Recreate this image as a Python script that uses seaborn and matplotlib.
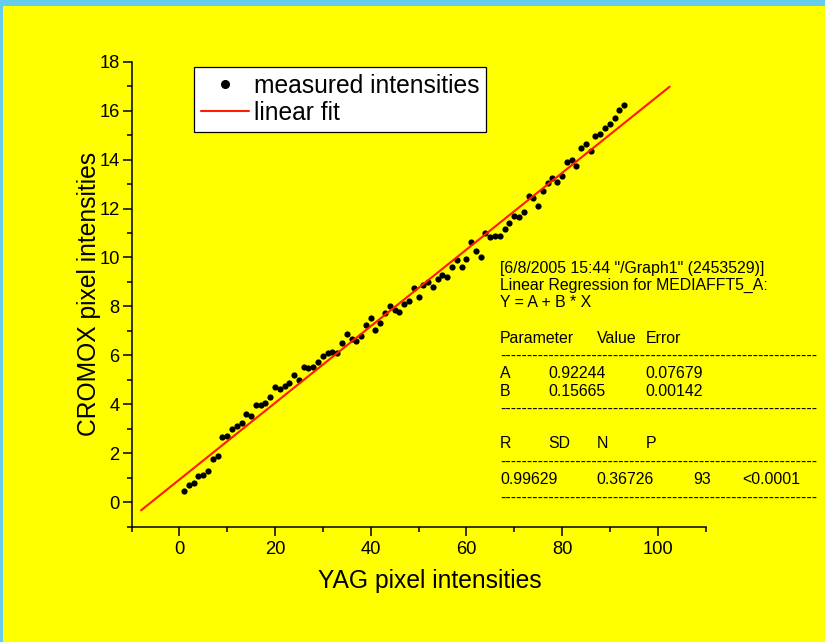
import numpy as np
import pandas as pd
import matplotlib
matplotlib.use("Agg")
import matplotlib.pyplot as plt
import seaborn as sns
from matplotlib.lines import Line2D
from matplotlib.patches import Rectangle
from matplotlib.ticker import MultipleLocator

# ---------------- data ----------------
yag = list(range(1, 94))
cromox = [0.45, 0.72, 0.78, 1.09, 1.13, 1.28, 1.77, 1.88, 2.66, 2.72,
          2.99, 3.10, 3.23, 3.62, 3.53, 3.96, 3.98, 4.07, 4.30, 4.71,
          4.64, 4.75, 4.88, 5.21, 5.01, 5.53, 5.50, 5.53, 5.74, 5.99,
          6.10, 6.12, 6.08, 6.51, 6.89, 6.67, 6.59, 6.79, 7.23, 7.52,
          7.03, 7.34, 7.75, 8.01, 7.84, 7.77, 8.12, 8.21, 8.76, 8.38,
          8.87, 8.98, 8.81, 9.14, 9.30, 9.21, 9.60, 9.88, 9.63, 9.93,
          10.64, 10.27, 10.01, 11.02, 10.83, 10.86, 10.86, 11.16, 11.40, 11.68,
          11.65, 11.84, 12.52, 12.44, 12.11, 12.71, 13.04, 13.23, 13.07, 13.31,
          13.91, 13.97, 13.72, 14.48, 14.65, 14.35, 14.98, 15.06, 15.28, 15.47,
          15.69, 16.01, 16.23]

fit_A = 0.92244
fit_B = 0.15665
fit_A_err = "0.07679"
fit_B_err = "0.00142"
fit_x_range = [-8.0, 102.5]
stat_R = "0.99629"
stat_SD = "0.36726"
stat_N = "93"
stat_P = "<0.0001"

x_major_ticks = [0, 20, 40, 60, 80, 100]
y_major_ticks = [0, 2, 4, 6, 8, 10, 12, 14, 16, 18]

legend_labels = ["measured intensities", "linear fit"]
x_label = "YAG pixel intensities"
y_label = "CROMOX pixel intensities"
header_lines = ['[6/8/2005 15:44 "/Graph1" (2453529)]',
                "Linear Regression for MEDIAFFT5_A:",
                "Y = A + B * X"]

# ---------------- style ----------------
BLUE = "#66CCEE"
YELLOW = "#FFFF00"
RED = "#FF1A00"

sns.set_theme(style="ticks")
plt.rcParams["font.family"] = ["Liberation Sans", "DejaVu Sans"]

W, H = 825, 642
fig = plt.figure(figsize=(W / 100, H / 100), dpi=100, facecolor=BLUE)
fig.patches.append(Rectangle((3 / W, 0), 1, 1 - 6 / H, transform=fig.transFigure,
                             facecolor=YELLOW, edgecolor="none", zorder=-10))

ax = fig.add_axes([131.5 / W, 1 - 526.7 / H, 574 / W, 465 / H])
ax.set_zorder(5)
ax.patch.set_alpha(0)

pts = pd.DataFrame({"YAG": yag, "CROMOX": cromox})
fit = pd.DataFrame({"x": fit_x_range})
fit["y"] = fit_A + fit_B * fit["x"]

sns.scatterplot(data=pts, x="YAG", y="CROMOX", s=20, color="black",
                linewidth=0, ax=ax, zorder=3, legend=False)
sns.lineplot(data=fit, x="x", y="y", color=RED, linewidth=1.5, ax=ax,
             zorder=4, legend=False, sort=False)

ax.set_xlim(-10, 110)
ax.set_ylim(-1, 18)
ax.set_xticks(x_major_ticks)
ax.set_yticks(y_major_ticks)
ax.xaxis.set_minor_locator(MultipleLocator(10))
ax.yaxis.set_minor_locator(MultipleLocator(1))

for s in ["top", "right"]:
    ax.spines[s].set_visible(False)
for s in ["left", "bottom"]:
    ax.spines[s].set_color("black")
    ax.spines[s].set_linewidth(1.1)

ax.tick_params(axis="both", which="major", direction="out", length=6.5,
               width=1.1, color="black", labelsize=13.2, labelcolor="black")
ax.tick_params(axis="both", which="minor", direction="out", length=3.3,
               width=1.1, color="black")
ax.tick_params(axis="x", which="major", pad=4)
ax.tick_params(axis="y", which="major", pad=2)

ax.set_xlabel(x_label, fontsize=17.7, color="black")
ax.set_ylabel(y_label, fontsize=17.7, color="black")
ax.xaxis.set_label_coords(0.52, -0.0903)
ax.yaxis.set_label_coords(-0.054, 0.5)

handles = [Line2D([], [], marker="o", ls="none", color="black", markersize=5.5),
           Line2D([], [], color=RED, lw=1.5)]
leg = ax.legend(handles, legend_labels, loc="upper left",
                bbox_to_anchor=(0.1106 - 1 / 574, 0.989), bbox_transform=ax.transAxes,
                frameon=True, fancybox=False, edgecolor="black",
                facecolor="white", framealpha=1, fontsize=17.7,
                borderpad=0.28, labelspacing=0.12, handlelength=1.95,
                handletextpad=0.2, borderaxespad=0)
leg.get_frame().set_linewidth(0.9)
for t in leg.get_texts():
    t.set_color("black")

# ---------------- regression report ----------------
cols = [500, 548.3, 596.7, 645.7, 693.3, 742.3]
FS = 11.4


def put(px, py, s):
    fig.text(px / W, 1 - py / H, s, fontsize=FS, ha="left", va="center",
             color="black", zorder=6)


dashes = "-" * 59
for py, line in zip([268.3, 285.0, 302.3], header_lines):
    put(cols[0], py, line)
put(cols[0], 338.3, "Parameter")
put(cols[2], 338.3, "Value")
put(cols[3], 338.3, "Error")
put(cols[0], 356.7, dashes)
put(cols[0], 374.0, "A")
put(cols[1], 374.0, f"{fit_A:.5f}")
put(cols[3], 374.0, fit_A_err)
put(cols[0], 391.7, "B")
put(cols[1], 391.7, f"{fit_B:.5f}")
put(cols[3], 391.7, fit_B_err)
put(cols[0], 409.3, dashes)
put(cols[0], 444.0, "R")
put(cols[1], 444.0, "SD")
put(cols[2], 444.0, "N")
put(cols[3], 444.0, "P")
put(cols[0], 462.0, dashes)
put(cols[0], 480.0, stat_R)
put(cols[2], 480.0, stat_SD)
put(cols[4], 480.0, stat_N)
put(cols[5], 480.0, stat_P)
put(cols[0], 498.3, dashes)

fig.savefig("out.png", dpi=100, facecolor=fig.get_facecolor())
